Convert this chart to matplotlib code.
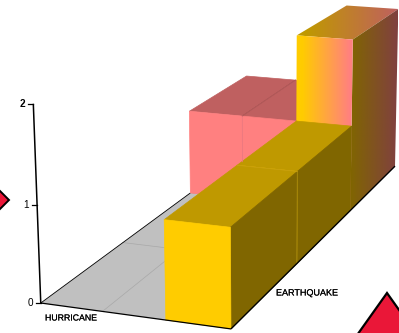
import numpy as np
import matplotlib
matplotlib.use("Agg")
import matplotlib.pyplot as plt
import matplotlib.patheffects as pe
from matplotlib.colors import LinearSegmentedColormap
from matplotlib.patches import Polygon

plt.rcParams["font.family"] = ["Liberation Sans", "DejaVu Sans"]

# cell heights, rows run front to back, columns left to right
heights = [[0, 0, 1],
           [0, 0, 1],
           [1, 1, 2]]
z_ticks = [0, 1, 2]
column_label = "HURRICANE"
row_label = "EARTHQUAKE"

YELLOW = ("#FFCC00", "#BF9900", "#806600")  # front, top, side
PINK = ("#FF8080", "#BF6060", "#804040")
RED = "#EA1738"

# camera calibration: scene point (x, depth, z) -> canvas pixel
scene_pts = [(0, 0, 0), (3, 0, 0), (3, 3, 0), (0, 0, 2), (3, 0, 1), (3, 3, 2), (0, 2, 1), (0, 3, 1),
             (3, 2, 2), (2, 2, 2), (2, 0, 1), (2, 0, 0), (1, 0, 0), (0, 1, 0), (0, 2, 0)]
pixel_pts = [(40, 303), (231, 329), (395, 167), (33, 105), (231, 227), (398, 9), (190, 111), (247, 76),
             (353, 39), (296, 35), (165, 220), (165, 320), (103, 311), (123, 242), (190, 193)]

# running draw order, faces are painted strictly in the order they are added
layer = [10]


def next_layer():
    layer[0] += 1
    return layer[0]


def fit_camera(scene, pixels):
    """
    Least squares fit of a 3x4 projection matrix
    :param scene: list of (x, depth, z)
    :param pixels: list of (px, py)
    :return: the matrix
    """
    rows = []
    rhs = []
    for (x, y, z), (u, v) in zip(scene, pixels):
        rows.append([x, y, z, 1, 0, 0, 0, 0, -u * x, -u * y, -u * z])
        rhs.append(u)
        rows.append([0, 0, 0, 0, x, y, z, 1, -v * x, -v * y, -v * z])
        rhs.append(v)
    sol = np.linalg.lstsq(np.array(rows, float), np.array(rhs, float), rcond=None)[0]
    return np.append(sol, 1).reshape(3, 4)


CAMERA = fit_camera(scene_pts, pixel_pts)


def project(x, y, z):
    p = CAMERA @ np.array([x, y, z, 1.0])
    return p[0] / p[2], p[1] / p[2]


def face(points):
    return [project(*pt) for pt in points]


def gradient_face(ax, verts, left, right, x0, x1):
    # horizontal colour ramp clipped to the polygon
    cmap = LinearSegmentedColormap.from_list("ramp", [left, right])
    xs = np.array(verts)[:, 0]
    ys = np.array(verts)[:, 1]
    ramp = np.clip((np.linspace(xs.min(), xs.max(), 200) - x0) / (x1 - x0), 0, 1).reshape(1, -1)
    img = ax.imshow(ramp, cmap=cmap, vmin=0, vmax=1, aspect="auto", zorder=next_layer(),
                    extent=(xs.min(), xs.max(), ys.max(), ys.min()), interpolation="bilinear")
    poly = Polygon(verts, closed=True, facecolor="none", edgecolor="none", transform=ax.transData)
    ax.add_patch(poly)
    img.set_clip_path(poly)


def solid_face(ax, verts, color, edge):
    ax.add_patch(Polygon(verts, closed=True, facecolor=color, edgecolor=edge, linewidth=0.5,
                         joinstyle="round", zorder=next_layer()))


def seam(ax, a, b, color):
    xs, ys = zip(*face([a, b]))
    ax.plot(xs, ys, color=color, lw=0.5, zorder=next_layer())


def draw_cell(ax, col, row, h):
    x0, x1 = col, col + 1
    y0, y1 = row, row + 1
    front = face([(x0, y0, 0), (x1, y0, 0), (x1, y0, h), (x0, y0, h)])
    top = face([(x0, y0, h), (x1, y0, h), (x1, y1, h), (x0, y1, h)])
    side = face([(x1, y0, 0), (x1, y1, 0), (x1, y1, h), (x1, y0, h)])

    if col == 2 and row == 2:
        # corner cell, where the yellow and pink rows meet
        gradient_face(ax, top, YELLOW[1], PINK[1], 305, 398)
        gradient_face(ax, side, YELLOW[2], PINK[2], 350, 398)
        gradient_face(ax, front, YELLOW[0], PINK[0], 302, 350)
        return
    colors = YELLOW if col == 2 else PINK
    solid_face(ax, top, colors[1], colors[1])
    solid_face(ax, side, colors[2], colors[2])
    solid_face(ax, front, colors[0], colors[0])


def main():
    fig = plt.figure(figsize=(3.99, 3.33), dpi=100)
    ax = fig.add_axes([0, 0, 1, 1])
    n_rows = len(heights)
    n_cols = len(heights[0])

    # floor
    floor = face([(0, 0, 0), (n_cols, 0, 0), (n_cols, n_rows, 0), (0, n_rows, 0)])
    ax.add_patch(Polygon(floor, closed=True, facecolor="#C0C0C0", edgecolor="none", zorder=1))
    for c in range(1, n_cols):
        xs, ys = zip(*face([(c, 0, 0), (c, n_rows, 0)]))
        ax.plot(xs, ys, color="#A8A8A8", lw=0.5, zorder=2)
    for r in range(1, n_rows):
        xs, ys = zip(*face([(0, r, 0), (n_cols, r, 0)]))
        ax.plot(xs, ys, color="#A8A8A8", lw=0.5, zorder=2)

    # back to front, left to right so nearer faces cover the others
    for row in range(n_rows - 1, -1, -1):
        for col in range(n_cols):
            if heights[row][col] > 0:
                draw_cell(ax, col, row, heights[row][col])

    # faint joins between neighbouring cells of equal height
    seam(ax, (1, 2, 0.45), (1, 2, 1), "#E87880")
    seam(ax, (1, 2, 1), (1, 3, 1), "#B05858")
    seam(ax, (3, 1, 0), (3, 1, 1), "#A88A10")
    seam(ax, (2, 1, 1), (3, 1, 1), "#C9A010")

    # axis lines
    for a, b, w in [((0, 0, 0), (n_cols, 0, 0), 0.9), ((n_cols, 0, 0), (n_cols, n_rows, 0), 1.0),
                    ((0, 0, 0), (0, 2, 0), 0.6), ((0, 0, 0), (0, 0, max(z_ticks)), 1.1)]:
        xs, ys = zip(*face([a, b]))
        ax.plot(xs, ys, color="black", lw=w, solid_capstyle="butt", zorder=5 if b[1] == 2 else 100)

    for t in z_ticks:
        px, py = project(0, 0, t)
        ax.plot([px - 5, px], [py, py], color="black", lw=0.9, zorder=100)
        ax.text(px - 8, py, str(t), ha="right", va="center", fontsize=7.2, color="black",
                fontweight="bold" if t == 2 else "normal", zorder=100)

    heavier = [pe.withStroke(linewidth=0.1, foreground="black")]
    ax.text(45, 318, column_label, ha="left", va="center", fontsize=6.3, color="black", zorder=100,
            path_effects=heavier)
    ax.text(276, 293, row_label, ha="left", va="center", fontsize=6.5, color="black", zorder=100,
            path_effects=heavier)

    # warning shapes running off the canvas edges
    ax.add_patch(Polygon([(-14, 200), (-2, 189), (9, 200), (-2, 211)], closed=True, facecolor=RED,
                         edgecolor="black", linewidth=1.4, zorder=100))
    ax.add_patch(Polygon([(387, 293), (350, 345), (424, 345)], closed=True, facecolor=RED,
                         edgecolor="black", linewidth=1.6, zorder=100))

    ax.set_xlim(0, 399)
    ax.set_ylim(333, 0)
    ax.axis("off")
    fig.savefig("out.png", dpi=100, facecolor="white")


if __name__ == "__main__":
    main()
